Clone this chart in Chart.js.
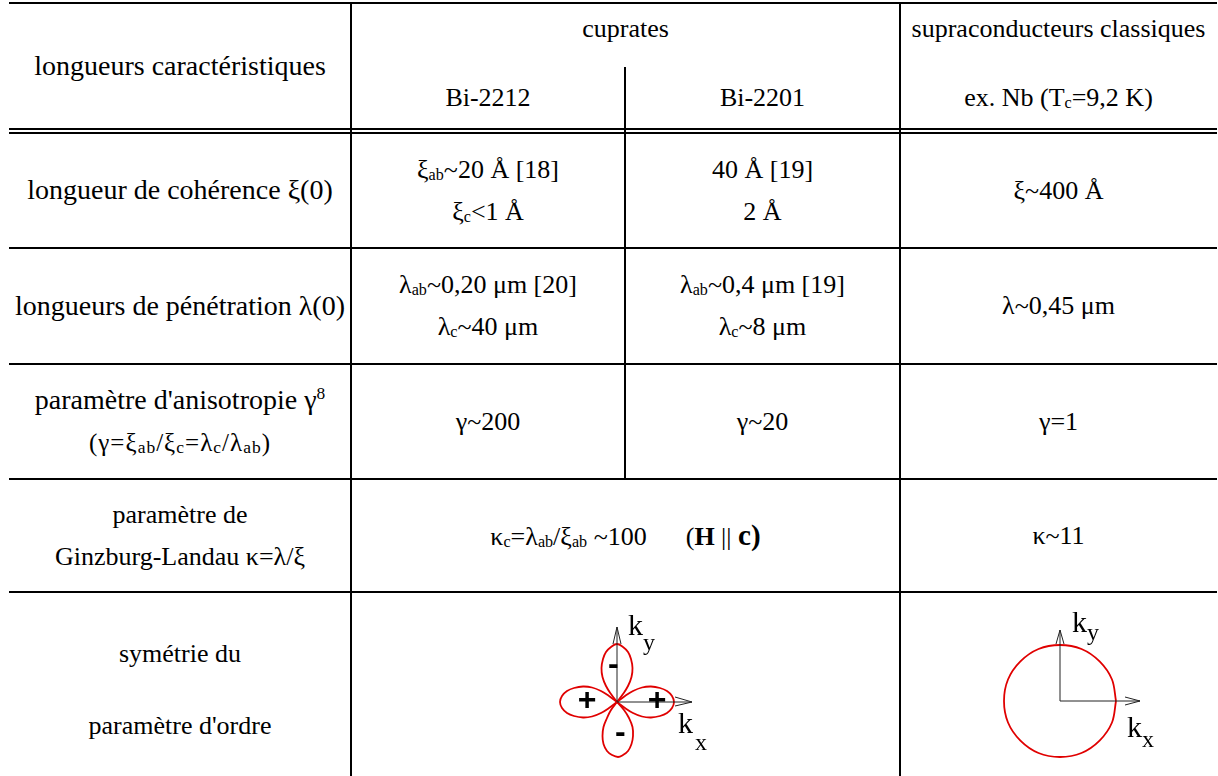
<!DOCTYPE html>
<html>
<head>
<meta charset="utf-8">
<script src="https://cdn.jsdelivr.net/npm/chart.js@4.4.1/dist/chart.umd.min.js"></script>
<style>
  html, body { margin: 0; padding: 0; background: #fff; }
  #page { position: relative; width: 1218px; height: 776px; overflow: hidden;
          font-family: "Liberation Serif", "Times New Roman", serif; font-size: 26px; color: #000; }
  .hl { position: absolute; left: 9px; width: 1208px; height: 2px; background: #000; }
  .vl { position: absolute; width: 2px; background: #000; }
  .cell { position: absolute; display: flex; flex-direction: column; justify-content: center;
          align-items: center; text-align: center; white-space: nowrap; line-height: 42px; }
  .cell.tall { line-height: 72px; padding-top: 12px; box-sizing: border-box; }
  .big { font-size: 28px; }
  .small { font-size: 25px; letter-spacing: 1px; }
  .small sub { font-size: 0.7em; }
  sub { font-size: 0.62em; vertical-align: -0.12em; line-height: 0; }
  sup { font-size: 0.62em; vertical-align: 0.6em; line-height: 0; }
  canvas { position: absolute; }
</style>
</head>
<body>
<div id="page"></div>
<script>
// --- contenu du tableau ---
var titreCol1 = '<span class="big">longueurs caractéristiques</span>';
var titreCuprates = 'cuprates';
var titreClassiques = 'supraconducteurs classiques';
var composes = ['Bi-2212', 'Bi-2201', 'ex. Nb (T<sub>c</sub>=9,2 K)'];

var grandeurs = [
  ['<span class="big">longueur de cohérence ξ(0)</span>'],
  ['<span class="big">longueurs de pénétration λ(0)</span>'],
  ['<span class="big">paramètre d\'anisotropie γ<sup>8</sup></span>', '<span class="small">(γ=ξ<sub>ab</sub>/ξ<sub>c</sub>=λ<sub>c</sub>/λ<sub>ab</sub>)</span>'],
  ['paramètre de', 'Ginzburg-Landau κ=λ/ξ'],
  ['symétrie du', 'paramètre d\'ordre']
];
var valBi2212 = [
  ['ξ<sub>ab</sub>~20 Å [18]', 'ξ<sub>c</sub>&lt;1 Å'],
  ['λ<sub>ab</sub>~0,20 μm [20]', 'λ<sub>c</sub>~40 μm'],
  ['γ~200'],
  ['κ<sub>c</sub>=λ<sub>ab</sub>/ξ<sub>ab</sub> ~100 &nbsp;&nbsp;&nbsp;&nbsp; (<b>H</b> || <b style="font-size:1.12em">c)</b>'],
  null
];
var valBi2201 = [
  ['40 Å [19]', '2 Å'],
  ['λ<sub>ab</sub>~0,4 μm [19]', 'λ<sub>c</sub>~8 μm'],
  ['γ~20'],
  null,
  null
];
var valClassiques = [
  ['ξ~400 Å'],
  ['λ~0,45 μm'],
  ['γ=1'],
  ['κ~11'],
  null
];

// --- symétrie d'ordre : contours (px, origine au centre) ---
var lobeDroit = [[0,0],[8,6],[16,11],[25,14.5],[34,15.5],[43,14],[50,11],[55,6],[57,0],[55,-6],[50,-11],[43,-14],[34,-15.5],[25,-14.5],[16,-11],[8,-6],[0,0]];
var lobeGauche = [[0,0],[-8,6],[-16,11],[-25,14.5],[-34,15.5],[-43,14],[-50,11],[-55,6],[-57,0],[-55,-6],[-50,-11],[-43,-14],[-34,-15.5],[-25,-14.5],[-16,-11],[-8,-6],[0,0]];
var lobeHaut = [[0,0],[6,8],[11,16],[14.5,25],[15.5,34],[14,43],[11,50],[6,55],[0,58],[-6,55],[-11,50],[-14,43],[-15.5,34],[-14.5,25],[-11,16],[-6,8],[0,0]];
var lobeBas = [[0,0],[7,-8],[12,-16],[15.5,-25],[16,-34],[14.5,-42],[11,-49],[6,-53],[1,-55],[-5,-53],[-10,-49],[-13.5,-42],[-14.5,-34],[-13.5,-25],[-10,-16],[-6,-8],[0,0]];
var cercle = [[56,0],[52,21.5],[39.6,39.6],[21.5,52],[0,56],[-21.5,52],[-39.6,39.6],[-52,21.5],[-56,0],[-52,-21.5],[-39.6,-39.6],[-21.5,-52],[0,-56],[21.5,-52],[39.6,-39.6],[52,-21.5],[56,0]];

var axeKyD = [[0,0],[0,75]], flecheKyD = [[-4,58],[0,75],[4,58]];
var axeKxD = [[0,0],[75,0]], flecheKxD = [[58,5],[75,0],[58,-4]];
var axeKyS = [[0,0],[0,71]], flecheKyS = [[-4,57],[0,71],[4,57]];
var axeKxS = [[0,0],[80,0]], flecheKxS = [[65,4],[80,0],[65,-4]];

var etiquettesD = [['k',11,66.7,'k'],['y',26,51.7,'sub'],['k',61,-31.3,'k'],['x',78,-48.3,'sub'],
                   ['+',-30,1,'signe'],['+',40,1,'signe'],['-',-3.7,36.7,'signe'],['-',3.3,-31.3,'signe']];
var etiquettesS = [['k',12,68.7,'k'],['y',27,60.7,'sub'],['k',67,-36.3,'k'],['x',82,-46.3,'sub']];

// --- mise en page ---
var page = document.getElementById('page');
var colX = [9, 351, 625, 900, 1217];
var rowY = [133, 248, 364, 479, 592, 776];

function ligne(cls, l, t, w, h) {
  var d = document.createElement('div');
  d.className = cls;
  d.style.left = l + 'px'; d.style.top = t + 'px';
  if (w) d.style.width = w + 'px';
  d.style.height = h + 'px';
  page.appendChild(d);
}
function cellule(lignes, x0, x1, y0, y1, extra) {
  if (!lignes) return;
  var d = document.createElement('div');
  d.className = 'cell' + (extra ? ' ' + extra : '');
  d.style.left = x0 + 'px'; d.style.width = (x1 - x0) + 'px';
  d.style.top = y0 + 'px'; d.style.height = (y1 - y0) + 'px';
  d.innerHTML = lignes.map(function (s) { return '<div>' + s + '</div>'; }).join('');
  page.appendChild(d);
}

// traits
ligne('hl', 9, 2, 0, 2);
ligne('hl', 9, 128, 0, 2);
ligne('hl', 9, 132, 0, 2);
[248, 364, 479, 592].forEach(function (y) { ligne('hl', 9, y - 1, 0, 2); });
ligne('vl', 350, 2, 0, 774);
ligne('vl', 899, 2, 0, 774);
ligne('vl', 624, 67, 0, 412);

// en-tête
cellule([titreCol1], colX[0], colX[1], 4, 128);
cellule([titreCuprates], colX[1], colX[3], 2, 56);
cellule([titreClassiques], colX[3], colX[4], 2, 56);
cellule([composes[0]], colX[1], colX[2], 67, 128);
cellule([composes[1]], colX[2], colX[3], 67, 128);
cellule([composes[2]], colX[3], colX[4], 67, 128);

// corps
grandeurs.forEach(function (g, i) {
  var y0 = rowY[i], y1 = rowY[i + 1];
  var extra = i === 4 ? 'tall' : '';
  cellule(g, colX[0], colX[1], y0, y1, extra);
  if (valBi2201[i]) {
    cellule(valBi2212[i], colX[1], colX[2], y0, y1);
    cellule(valBi2201[i], colX[2], colX[3], y0, y1);
  } else {
    cellule(valBi2212[i], colX[1], colX[3], y0, y1);
  }
  cellule(valClassiques[i], colX[3], colX[4], y0, y1);
});

// --- diagrammes Chart.js ---
var polices = { k: '30px "Liberation Serif"', sub: '24px "Liberation Serif"', signe: 'bold 32px "Liberation Sans"' };

var pluginEtiquettes = {
  id: 'etiquettes',
  afterDatasetsDraw: function (chart, args, opts) {
    var ctx = chart.ctx, sx = chart.scales.x, sy = chart.scales.y;
    ctx.save();
    ctx.fillStyle = '#000';
    opts.items.forEach(function (e) {
      ctx.font = polices[e[3]];
      if (e[3] === 'signe') { ctx.textAlign = 'center'; ctx.textBaseline = 'middle'; }
      else { ctx.textAlign = 'left'; ctx.textBaseline = 'alphabetic'; }
      ctx.fillText(e[0], sx.getPixelForValue(e[1]), sy.getPixelForValue(e[2]));
    });
    ctx.restore();
  }
};

function pts(a) { return a.map(function (p) { return { x: p[0], y: p[1] }; }); }
function trace(a, couleur, ep, tension) {
  return { data: pts(a), showLine: true, pointRadius: 0, borderColor: couleur,
           borderWidth: ep, tension: tension, fill: false };
}

function diagramme(left, top, w, h, cx, cy, datasets, etiquettes) {
  var c = document.createElement('canvas');
  c.width = w; c.height = h;
  c.style.left = left + 'px'; c.style.top = top + 'px';
  c.style.width = w + 'px'; c.style.height = h + 'px';
  page.appendChild(c);
  new Chart(c.getContext('2d'), {
    type: 'scatter',
    data: { datasets: datasets },
    options: {
      responsive: false,
      animation: false,
      layout: { padding: 0 },
      plugins: { legend: { display: false }, tooltip: { enabled: false },
                 etiquettes: { items: etiquettes } },
      scales: {
        x: { type: 'linear', display: false, min: left - cx, max: left + w - cx },
        y: { type: 'linear', display: false, min: cy - (top + h), max: cy - top }
      }
    },
    plugins: [pluginEtiquettes]
  });
}

var rouge = '#e00000', noir = '#222';
diagramme(517, 596, 200, 180, 617, 702, [
  trace(axeKyD, noir, 1, 0), trace(flecheKyD, noir, 1, 0),
  trace(axeKxD, noir, 1, 0), trace(flecheKxD, noir, 1, 0),
  trace(lobeDroit, rouge, 1.8, 0.4), trace(lobeGauche, rouge, 1.8, 0.4),
  trace(lobeHaut, rouge, 1.8, 0.4), trace(lobeBas, rouge, 1.8, 0.4)
], etiquettesD);

diagramme(960, 596, 210, 180, 1060, 701, [
  trace(axeKyS, noir, 1, 0), trace(flecheKyS, noir, 1, 0),
  trace(axeKxS, noir, 1, 0), trace(flecheKxS, noir, 1, 0),
  trace(cercle, rouge, 1.8, 0.34)
], etiquettesS);
</script>
</body>
</html>
